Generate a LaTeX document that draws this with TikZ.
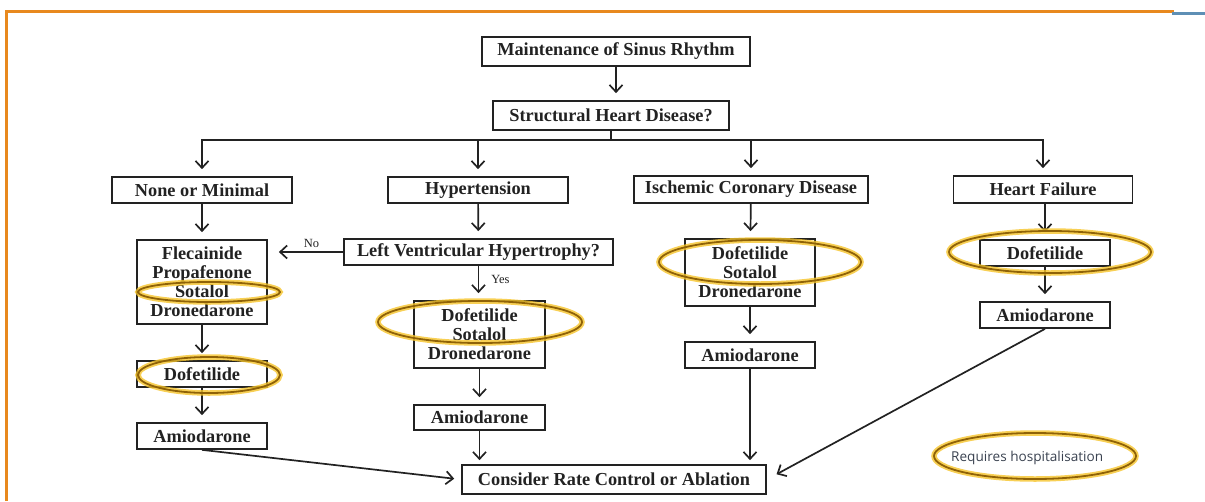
\documentclass[tikz,border=0pt]{standalone}
\usepackage{fontspec}
\setmainfont{Liberation Serif}
\newfontfamily\legendfont{Open Sans}
\usetikzlibrary{arrows.meta}
\definecolor{frameorange}{HTML}{E8891E}
\definecolor{frameblue}{HTML}{5E8FB5}
\definecolor{ink}{HTML}{222222}
\definecolor{glow}{HTML}{F6C42A}
\definecolor{ringgold}{HTML}{8F6207}
\definecolor{legendink}{HTML}{3A4250}
\tikzset{
  box/.style={draw=ink, line width=1.7pt, inner sep=0pt, text=ink,
    font=\fontsize{18.3}{19}\selectfont\bfseries, align=center},
  arr/.style={draw=ink, line width=1.7pt, -{Straight Barb[length=7pt,width=13pt,line width=1.7pt]}, shorten >=7pt},
  plain/.style={draw=ink, line width=1.7pt},
  lbl/.style={text=ink, font=\fontsize{12.5}{13}\selectfont, inner sep=0pt},
  ringglow/.style={draw=glow, line width=5.5pt, opacity=0.8},
  ringline/.style={draw=ringgold, line width=1.8pt}
}
\newcommand{\hosp}[3]{%
  \draw[ringglow] (#1) ellipse [x radius=#2, y radius=#3];
  \draw[ringline] (#1) ellipse [x radius=#2, y radius=#3];}
\begin{document}
\begin{tikzpicture}[x=1pt,y=-1pt]
\useasboundingbox (0,0) rectangle (1205,501);
% frame
\draw[frameorange, line width=3pt] (6,501) -- (6,11) -- (1174,11);
\draw[frameblue, line width=3pt] (1172,13.5) -- (1205,13.5);

% nodes
\node[box, minimum width=268, minimum height=29] (msr) at (616,51.5) {Maintenance of Sinus Rhythm};
\node[box, minimum width=236, minimum height=29] (shd) at (611,115.5) {Structural Heart Disease?};
\coordinate (bus) at (611,140);

\node[box, minimum width=180, minimum height=26] (none) at (202,190) {None or Minimal};
\node[box, minimum width=180, minimum height=26] (hyp) at (478,190) {Hypertension};
\node[box, minimum width=234, minimum height=27] (isc) at (751,189.5) {Ischemic Coronary Disease};
\node[box, minimum width=179, minimum height=27] (hf) at (1043,189.5) {Heart Failure};

\node[box, minimum width=130, minimum height=84] (flec) at (202,282) {Flecainide\\Propafenone\\Sotalol\\Dronedarone};
\node[box, minimum width=130, minimum height=26] (dofn) at (202,374) {Dofetilide};
\node[box, minimum width=130, minimum height=26] (amn) at (202,436) {Amiodarone};

\node[box, minimum width=269, minimum height=26] (lvh) at (478.5,252) {Left Ventricular Hypertrophy?};
\node[box, minimum width=131, minimum height=67] (dsh) at (479.5,334.5) {Dofetilide\\Sotalol\\Dronedarone};
\node[box, minimum width=131, minimum height=25] (amh) at (479.5,417.5) {Amiodarone};

\node[box, minimum width=130, minimum height=67] (dsi) at (750,272.5) {Dofetilide\\Sotalol\\Dronedarone};
\node[box, minimum width=130, minimum height=26] (ami) at (750,355) {Amiodarone};

\node[box, minimum width=130, minimum height=26] (dofh) at (1045,253) {Dofetilide};
\node[box, minimum width=130, minimum height=26] (amhf) at (1045,315) {Amiodarone};

\node[box, minimum width=304, minimum height=29] (cons) at (614,479.5) {Consider Rate Control or Ablation};

% connectors
\draw[arr] (msr.south) -- (msr.south |- shd.north);
\draw[plain] (shd) -- (bus);
\draw[plain] (none.north |- bus) -- (hf.north |- bus);
\draw[arr] (bus) -| (none.north);
\draw[arr] (bus) -| (hyp.north);
\draw[arr] (bus) -| (isc.north);
\draw[arr] (bus) -| (hf.north);

\draw[arr] (none) -- (flec);
\draw[arr] (flec) -- (dofn);
\draw[arr] (dofn) -- (amn);

\draw[arr] (hyp) -- (lvh);
\draw[arr, shorten >=11pt] (lvh) -- node[lbl, above=4pt, pos=0.42] {No} (flec.east |- lvh);
\draw[arr] (lvh) -- node[lbl, right=12pt, pos=0.4] {Yes} (lvh.south |- dsh.north);
\draw[arr] (dsh) -- (amh);
\draw[arr, shorten >=4pt] (amh) -- (amh.south |- cons.north);

\draw[arr] (isc) -- (dsi);
\draw[arr] (dsi) -- (ami);
\draw[arr, shorten >=4pt] (ami) -- (ami.south |- cons.north);

\draw[arr] (hf.south -| dofh) -- (dofh);
\draw[arr] (dofh) -- (amhf);

\draw[arr] (amn.south) -- (cons.west);
\draw[arr, shorten >=11pt] (amhf.south) -- (cons.east);

% hospitalisation rings
\hosp{209,292}{71}{10}
\hosp{209,375}{71}{18}
\hosp{480,322}{102}{21}
\hosp{760,262}{101}{22}
\hosp{1050,252}{101}{21}
\hosp{1035,456}{101}{23}
\node[text=legendink, font=\legendfont\fontsize{13.6}{15}\selectfont, inner sep=0pt, anchor=west] (leg) at (951,458) {Requires hospitalisation};
\end{tikzpicture}
\end{document}
